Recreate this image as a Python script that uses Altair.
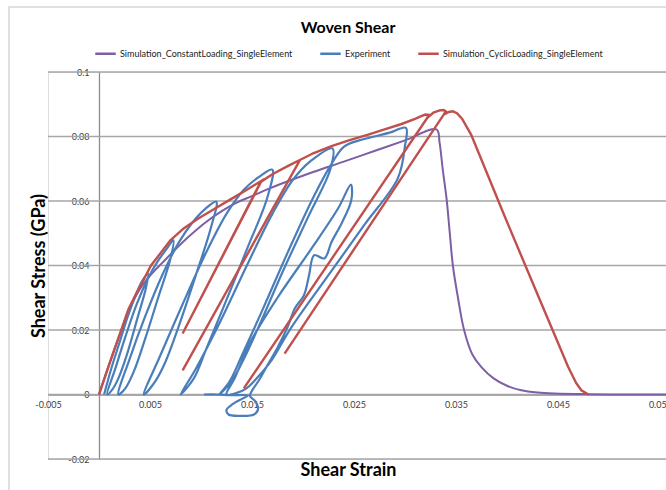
import altair as alt
import pandas as pd

# ---------------- data ----------------
series_names = ["Simulation_ConstantLoading_SingleElement", "Experiment",
                "Simulation_CyclicLoading_SingleElement"]
series_colors = ["#7D5FA6", "#4A7EBB", "#C0504D"]

const_x = [0.0, 0.0008, 0.0016, 0.0023, 0.0029, 0.0036, 0.0044, 0.0051, 0.0062, 0.0075,
           0.0090, 0.0105, 0.0120, 0.0135, 0.0150, 0.0165, 0.0180, 0.0210, 0.0240, 0.0270,
           0.0300, 0.0331, 0.0334, 0.0337, 0.0341, 0.0344, 0.0347, 0.0352, 0.0358, 0.0366,
           0.0375, 0.0387, 0.0400, 0.0414, 0.0430, 0.0447, 0.0480, 0.0520, 0.0556]
const_y = [0.0, 0.0075, 0.0148, 0.0210, 0.0262, 0.0305, 0.0345, 0.0372, 0.0408, 0.0450,
           0.0495, 0.0535, 0.0568, 0.0595, 0.0615, 0.0636, 0.0655, 0.0690, 0.0722, 0.0755,
           0.0788, 0.0822, 0.0780, 0.0700, 0.0602, 0.0500, 0.0400, 0.0300, 0.0200, 0.0125,
           0.0085, 0.0050, 0.0027, 0.0013, 0.0006, 0.0003, 0.0001, 0.0, 0.0]

exp_x = [0.0005, 0.0012, 0.0020, 0.0028, 0.0035, 0.0042, 0.0048,
         0.0046, 0.0038, 0.0028, 0.0019, 0.0013, 0.0008,
         0.0016, 0.0026, 0.0037, 0.0048, 0.0058, 0.0066, 0.0073,
         0.0070, 0.0058, 0.0045, 0.0034, 0.0026, 0.0019,
         0.0030, 0.0045, 0.0062, 0.0078, 0.0092, 0.0104, 0.0115,
         0.0110, 0.0095, 0.0078, 0.0065, 0.0055, 0.0044,
         0.0060, 0.0082, 0.0105, 0.0125, 0.0142, 0.0157, 0.0170,
         0.0165, 0.0145, 0.0122, 0.0105, 0.0093, 0.0080,
         0.0095, 0.0118, 0.0145, 0.0170, 0.0190, 0.0208, 0.0229,
         0.0227, 0.0205, 0.0180, 0.0158, 0.0142, 0.0130, 0.0118,
         0.0128, 0.0140, 0.0160, 0.0185, 0.0210, 0.0228, 0.0240, 0.0255, 0.0270, 0.0285, 0.0301,
         0.0300, 0.0293, 0.0260, 0.0225, 0.0188, 0.0170, 0.0156, 0.0145, 0.0135, 0.0125,
         0.0133, 0.0148, 0.0175, 0.0210, 0.0235, 0.0247,
         0.0248, 0.0246, 0.0237, 0.0228, 0.0221, 0.0211, 0.0206, 0.0201, 0.0192, 0.0185,
         0.0175, 0.0165, 0.0157, 0.0150, 0.0148,
         0.0153, 0.0156, 0.0152, 0.0138, 0.0127, 0.0125, 0.0131, 0.0141, 0.0146, 0.0130,
         0.0115, 0.0103]
exp_y = [0.0, 0.0080, 0.0160, 0.0240, 0.0300, 0.0350, 0.0375,
         0.0330, 0.0240, 0.0130, 0.0050, 0.0015, 0.0,
         0.0080, 0.0180, 0.0280, 0.0360, 0.0415, 0.0450, 0.0478,
         0.0420, 0.0300, 0.0170, 0.0070, 0.0020, 0.0,
         0.0110, 0.0240, 0.0370, 0.0470, 0.0535, 0.0575, 0.0598,
         0.0520, 0.0370, 0.0210, 0.0100, 0.0040, 0.0,
         0.0120, 0.0280, 0.0440, 0.0560, 0.0635, 0.0675, 0.0697,
         0.0610, 0.0450, 0.0270, 0.0140, 0.0050, 0.0,
         0.0080, 0.0220, 0.0400, 0.0560, 0.0665, 0.0725, 0.0763,
         0.0700, 0.0550, 0.0380, 0.0220, 0.0110, 0.0040, 0.0,
         0.0040, 0.0120, 0.0260, 0.0440, 0.0610, 0.0715, 0.0768, 0.0788, 0.0800, 0.0812, 0.0827,
         0.0770, 0.0670, 0.0525, 0.0370, 0.0205, 0.0110, 0.0055, 0.0020, 0.0005, 0.0,
         0.0050, 0.0160, 0.0300, 0.0460, 0.0580, 0.0651,
         0.0615, 0.0587, 0.0525, 0.0473, 0.0422, 0.0432, 0.0370, 0.0308, 0.0267, 0.0210,
         0.0145, 0.0090, 0.0045, 0.0012, -0.0005,
         -0.0020, -0.0045, -0.0062, -0.0066, -0.0062, -0.0048, -0.0030, -0.0012, -0.0003, -0.0002,
         0.0, 0.0]

cyc_x = [0.0, 0.0008, 0.0016, 0.0023, 0.0029, 0.0036, 0.0042, 0.0051, 0.0062, 0.0070,
         0.0083, 0.0097, 0.0113, 0.0129, 0.0145, 0.0159,
         0.0082, 0.0159,
         0.0170, 0.0185, 0.0197,
         0.0082, 0.0197,
         0.0210, 0.0228, 0.0245, 0.0264, 0.0280, 0.0296, 0.0310, 0.0316, 0.0320, 0.0323, 0.0322,
         0.0142, 0.0322,
         0.0328, 0.0334, 0.0338, 0.0340, 0.0338,
         0.0182, 0.0338,
         0.0343, 0.0347, 0.0351, 0.0356, 0.0365, 0.0398, 0.0431, 0.0460, 0.0468, 0.0473, 0.0480]
cyc_y = [0.0, 0.0075, 0.0148, 0.0210, 0.0265, 0.0310, 0.0345, 0.0400, 0.0445, 0.0478,
         0.0515, 0.0545, 0.0575, 0.0605, 0.0635, 0.0662,
         0.0189, 0.0660,
         0.0683, 0.0708, 0.0727,
         0.0075, 0.0727,
         0.0748, 0.0770, 0.0788, 0.0806, 0.0822, 0.0838, 0.0855, 0.0863, 0.0868, 0.0867, 0.0858,
         0.0019, 0.0858,
         0.0874, 0.0881, 0.0882, 0.0878, 0.0868,
         0.0127, 0.0868,
         0.0876, 0.0878, 0.0872, 0.0855, 0.0805, 0.0551, 0.0303, 0.0086, 0.0035, 0.0013, 0.0]

x_ticks = [-0.005, 0.005, 0.015, 0.025, 0.035, 0.045, 0.055]
y_ticks = [-0.02, 0.0, 0.02, 0.04, 0.06, 0.08, 0.1]


def frame(name, xs, ys):
    return pd.DataFrame({"strain": xs, "stress": ys, "series": name,
                         "i": list(range(len(xs)))})


# ---------------- layout ----------------
W, H = 618, 387
FONT = "Lato"
X0 = W * 0.005 / 0.0606          # pixel of strain = 0
Y0 = H * 0.1 / 0.12              # pixel of stress = 0
x_scale = alt.Scale(domain=[-0.005, 0.0556], nice=False, zero=False)
y_scale = alt.Scale(domain=[-0.02, 0.1], nice=False, zero=False)
color_scale = alt.Scale(domain=series_names, range=series_colors)

x_axis = alt.Axis(values=x_ticks, labelExpr="toString(datum.value)", grid=False, ticks=False,
                  offset=-(H - Y0), domainColor="#8C8C8C", domainWidth=1.3,
                  labelFont=FONT, labelFontSize=9, labelColor="#404040", labelPadding=6,
                  labelFlush=False, labelOverlap=False,
                  title="Shear Strain", titleFont=FONT, titleFontSize=18, titleFontWeight="bold",
                  titleColor="#000000", titleX=300, titleY=76, titleBaseline="middle",
                  titleAlign="center")
y_axis = alt.Axis(values=y_ticks, labelExpr="toString(datum.value)", grid=False, ticks=False,
                  offset=-X0, domainColor="#8C8C8C", domainWidth=1.3,
                  labelFont=FONT, labelFontSize=9, labelColor="#404040", labelPadding=10,
                  labelFlush=False, labelOverlap=False,
                  title="Shear Stress (GPa)", titleFont=FONT, titleFontSize=18,
                  titleFontWeight="bold", titleColor="#000000", titleX=-59, titleY=H / 2,
                  titleBaseline="middle", titleAlign="center")
legend = alt.Legend(orient="none", legendX=46, legendY=-30, direction="horizontal", title=None,
                    symbolType="stroke", symbolSize=420, symbolStrokeWidth=2.5,
                    labelFont=FONT, labelFontSize=9, labelColor="#222222", labelOffset=3,
                    columnPadding=22, labelLimit=400)

X = alt.X("strain:Q", scale=x_scale, axis=x_axis)
Y = alt.Y("stress:Q", scale=y_scale, axis=y_axis)
C = alt.Color("series:N", scale=color_scale, legend=legend)

grid = alt.Chart(pd.DataFrame({"stress": y_ticks})).mark_rule(
    color="#A6A6A6", strokeWidth=1.3).encode(y=Y, x=alt.value(0), x2=alt.value(W))

border = alt.Chart(pd.DataFrame({"k": [0]})).mark_rect(
    fillOpacity=0, stroke="#D6D6D6", strokeWidth=1.5).encode(
    x=alt.value(-39), x2=alt.value(W + 30), y=alt.value(-65), y2=alt.value(H + 60))


def line(name, xs, ys, interp="linear", sw=2.2):
    return alt.Chart(frame(name, xs, ys)).mark_line(strokeWidth=sw, interpolate=interp).encode(
        x=X, y=Y, color=C, order="i:Q")


chart = alt.layer(
    border, grid,
    line(series_names[0], const_x, const_y, "catmull-rom", 2.0),
    line(series_names[1], exp_x, exp_y, "catmull-rom", 2.2),
    line(series_names[2], cyc_x, cyc_y, "linear", 2.4),
).properties(
    width=W, height=H,
    title=alt.TitleParams("Woven Shear", font=FONT, fontSize=16, fontWeight="bold",
                          color="#000000", anchor="middle", dx=-9, offset=-30),
    padding={"left": 48, "top": 72, "right": 0, "bottom": 31},
    autosize=alt.AutoSizeParams(type="none"),
).configure_view(stroke=None).configure(background="#FFFFFF")

chart.save("out.html", embed_options={"renderer": "svg", "actions": False})
